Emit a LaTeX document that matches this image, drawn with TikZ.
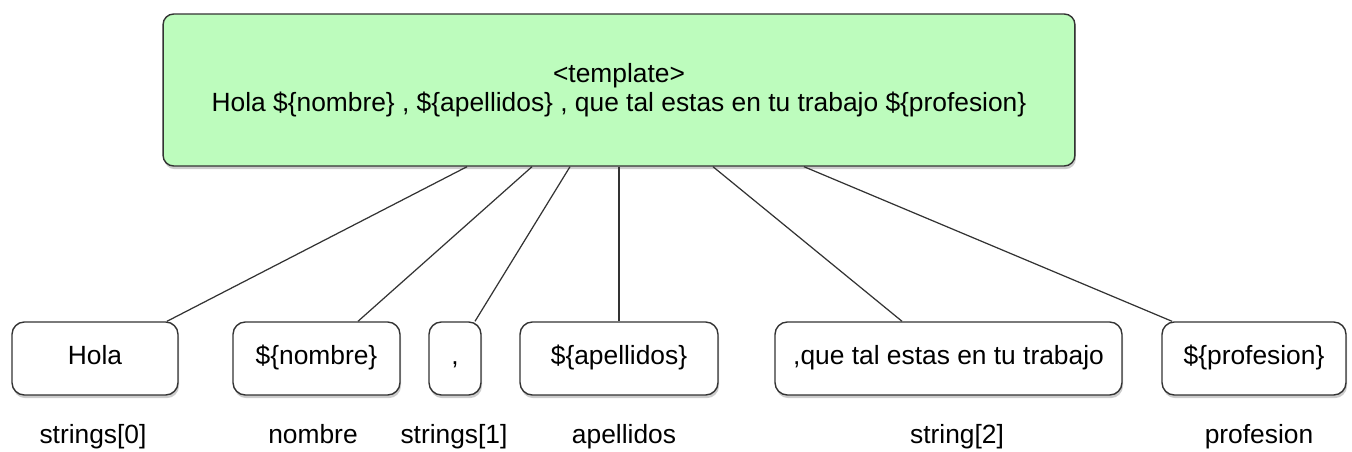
\documentclass[tikz,border=0pt]{standalone}
\usepackage{fontspec}
\setmainfont{Liberation Sans}
\usetikzlibrary{shadows}
\definecolor{tplgreen}{HTML}{BDFCBD}
\definecolor{boxline}{HTML}{333333}

\begin{document}
\begin{tikzpicture} [
    x=0.02cm, y=-0.02cm,
    font=\fontsize{15}{16.5}\selectfont,
    every shadow/.style = {opacity=0.4, shadow xshift=0.6pt, shadow yshift=-1.8pt},
    tplbox/.style = {draw=boxline, line width=0.8pt, rounded corners=6pt,
        fill=tplgreen, drop shadow, align=center,
        minimum width=18.24cm, minimum height=3.04cm},
    part/.style = {draw=boxline, line width=0.8pt, rounded corners=7pt,
        fill=white, drop shadow, minimum height=1.46cm, inner sep=0pt,
        text height=0.72em, text depth=0.05em},
    caption/.style = {anchor=base},
    link/.style = {draw=boxline, line width=0.7pt}]
    % \draw [help lines] (0,0) grid (1352,452);
    \useasboundingbox (0,0) rectangle (1352,452);
    \node (tpl) [tplbox] at (619,90)
        {<template>\\Hola \$\{nombre\} , \$\{apellidos\} , que tal estas en tu trabajo \$\{profesion\}};

    \node (p0) [part, minimum width=3.32cm] at (95,358.5) {Hola};
    \node (p1) [part, minimum width=3.34cm] at (316.5,358.5) {\$\{nombre\}};
    \node (p2) [part, minimum width=1.04cm] at (455,358.5) {,};
    \node (p3) [part, minimum width=3.96cm] at (619,358.5) {\$\{apellidos\}};
    \node (p4) [part, minimum width=6.94cm] at (948.5,358.5) {,que tal estas en tu trabajo};
    \node (p5) [part, minimum width=3.68cm] at (1254,358.5) {\$\{profesion\}};

    \node (l0) [caption] at (93,443) {strings[0]};
    \node (l1) [caption] at (313,443) {nombre};
    \node (l2) [caption] at (454,443) {strings[1]};
    \node (l3) [caption] at (624,443) {apellidos};
    \node (l4) [caption] at (957,443) {string[2]};
    \node (l5) [caption] at (1259,443) {profesion};

    \path [link]
        ([xshift=-3.04cm]tpl.south) edge ([xshift=1.44cm]p0.north)
        ([xshift=-1.74cm]tpl.south) edge ([xshift=0.83cm]p1.north)
        ([xshift=-0.98cm]tpl.south) edge ([xshift=0.4cm]p2.north)
        (tpl.south) edge (p3.north)
        ([xshift=1.88cm]tpl.south) edge ([xshift=-0.93cm]p4.north)
        ([xshift=3.7cm]tpl.south) edge ([xshift=-1.64cm]p5.north);
\end{tikzpicture}
\end{document}
